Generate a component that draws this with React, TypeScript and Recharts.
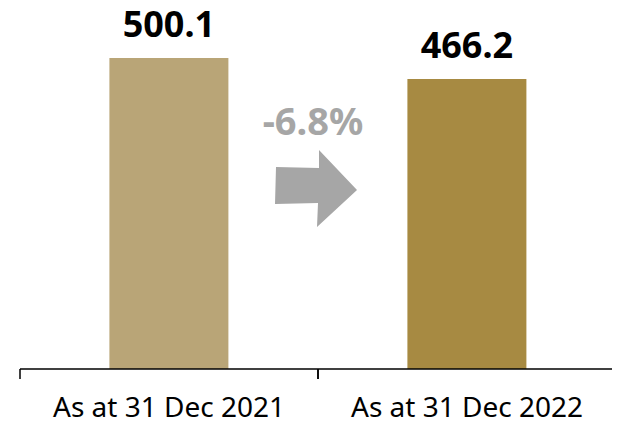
import React from 'react';
import { BarChart, Bar, XAxis, YAxis, Cell, LabelList, Customized } from 'recharts';

const categories = ['As at 31 Dec 2021', 'As at 31 Dec 2022'];
const values = [500.1, 466.2];
const barColors = ['#B9A577', '#A78A42'];
const changeLabel = '-6.8%';

const data = categories.map((c, i) => ({ name: c, value: values[i] }));

const FONT = '"Noto Sans", sans-serif';

const Arrow = () => (
  <g>
    <text x={313} y={135} textAnchor="middle" fill="#A6A6A6" fontSize={38} fontWeight={700} fontFamily={FONT}>
      {changeLabel}
    </text>
    <polygon
      points="276,167 319,168 319,150 357,190 317,227 318,203 275,204"
      fill="#A6A6A6"
    />
  </g>
);

const CategoryTick = (props: any) => {
  const { x, y, payload, width, visibleTicksCount } = props;
  const half =
    payload && typeof payload.offset === 'number' && payload.offset > 0
      ? payload.offset
      : width / (visibleTicksCount || 2) / 2;
  return (
    <g>
      <line x1={x - half} x2={x - half} y1={y} y2={y + 10} stroke="#000" strokeWidth={1.5} />
      <line x1={x + half} x2={x + half} y1={y} y2={y + 10} stroke="#000" strokeWidth={1.5} />
      <text x={x} y={y + 48} textAnchor="middle" fill="#000" fontSize={28} fontFamily={FONT}>
        {payload.value}
      </text>
    </g>
  );
};

export default function App() {
  return (
    <div style={{ marginLeft: -8, marginTop: -8, width: 620, height: 425 }}>
      <BarChart
        width={620}
        height={425}
        data={data}
        margin={{ top: 58, right: 4, bottom: 0, left: 20 }}
        barCategoryGap="30%"
        style={{ fontFamily: FONT }}
      >
        <YAxis hide domain={[0, 'dataMax']} />
        <XAxis
          dataKey="name"
          height={56}
          axisLine={{ stroke: '#000', strokeWidth: 1.5 }}
          tickLine={false}
          tickSize={0}
          tickMargin={0}
          interval={0}
          tick={<CategoryTick />}
        />
        <Bar dataKey="value" isAnimationActive={false}>
          {data.map((d, i) => (
            <Cell key={d.name} fill={barColors[i]} />
          ))}
          <LabelList
            dataKey="value"
            position="top"
            offset={21}
            fill="#000"
            fontSize={36}
            fontWeight={700}
            fontFamily={FONT}
          />
        </Bar>
        <Customized component={<Arrow />} />
      </BarChart>
    </div>
  );
}
